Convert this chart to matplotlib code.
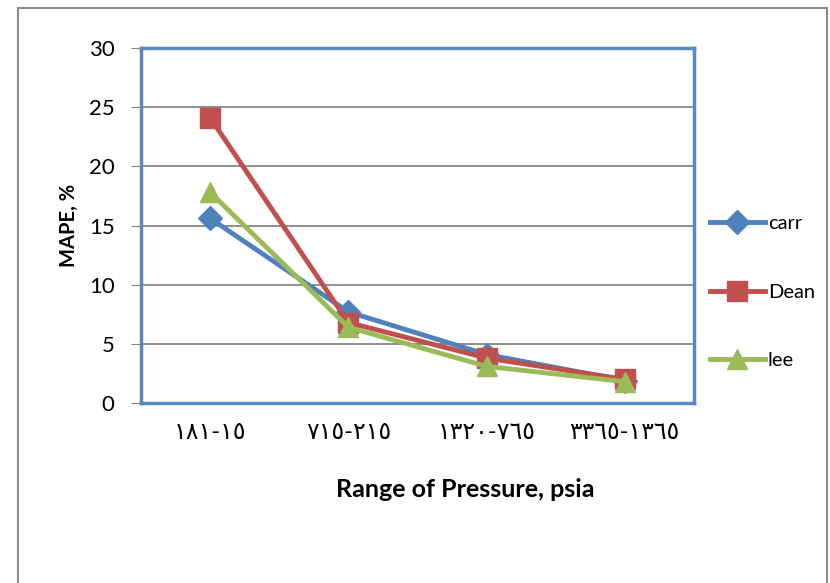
import numpy as np
import matplotlib
matplotlib.use("Agg")
import matplotlib.pyplot as plt
from matplotlib.patches import Rectangle

# Lato for latin text, DejaVu Sans fills in the Arabic-Indic digits
plt.rcParams['font.family'] = ['Lato', 'DejaVu Sans']

# Pressure ranges (psia) and mean absolute percentage error per correlation
ranges = ["١٨١-١٥", "٧١٥-٢١٥", "١٣٢٠-٧٦٥", "٣٣٦٥-١٣٦٥"]
carr = [15.6, 7.7, 4.1, 1.9]
dean = [24.1, 6.8, 3.8, 2.0]
lee = [17.8, 6.4, 3.1, 1.8]

BLUE = "#4F81BD"
RED = "#C0504D"
GREEN = "#9BBB59"

fig = plt.figure(figsize=(8.3, 5.83), dpi=100)
ax = fig.add_axes([0.170, 0.3087, 0.666, 0.609])

x = np.arange(len(ranges))
ax.plot(x, carr, color=BLUE, lw=3.5, marker="D", ms=12, label="carr", zorder=3)
ax.plot(x, dean, color=RED, lw=3.5, marker="s", ms=14, label="Dean", zorder=4)
ax.plot(x, lee, color=GREEN, lw=3.5, marker="^", ms=14, label="lee", zorder=5)

ax.set_xlim(-0.5, len(ranges) - 0.5)
ax.set_ylim(0, 30)
ax.set_yticks(range(0, 31, 5))
ax.set_xticks(x)
ax.set_xticklabels(ranges, fontsize=17)
ax.tick_params(axis="y", labelsize=16, length=7, color="#868686", pad=12)
ax.tick_params(axis="x", length=0, pad=14)
ax.yaxis.grid(True, color="#868686", lw=1.3)
ax.set_axisbelow(True)
for s in ax.spines.values():
    s.set_color("#5B87C0")
    s.set_linewidth(2.5)

ax.set_ylabel("MAPE, %", fontsize=14.5, fontweight="bold")
ax.yaxis.set_label_coords(-0.113, 0.5)
ax.set_xlabel("Range of Pressure, psia", fontsize=18, fontweight="bold")
ax.xaxis.set_label_coords(0.586, -0.21)

fig.legend(loc="center left", bbox_to_anchor=(0.846, 0.499), frameon=False,
           fontsize=14.5, handlelength=2.7, handletextpad=0.15, labelspacing=2.55,
           borderaxespad=0)

# outer chart frame
fig.patches.append(Rectangle((18 / 830, -0.05), 809 / 830, 1.05 - 8 / 583,
                             transform=fig.transFigure, fill=False,
                             edgecolor="#8C8C8C", lw=1.5, clip_on=False))

fig.savefig("out.png", dpi=100)
